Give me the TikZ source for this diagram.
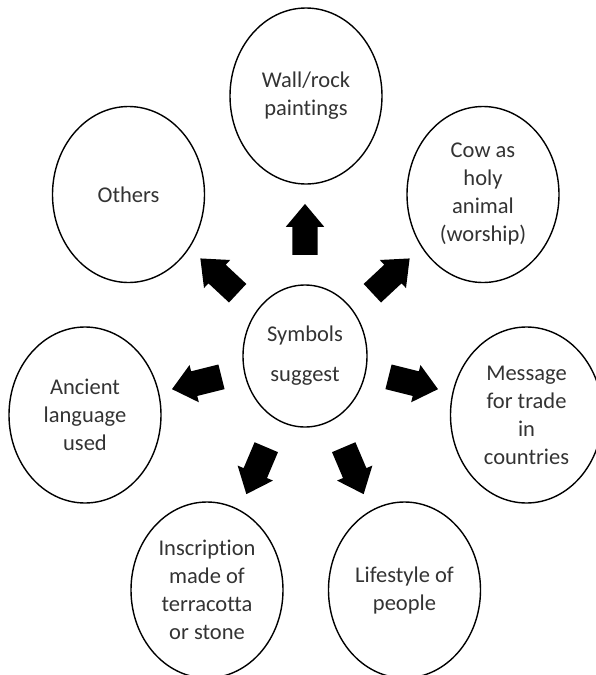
\documentclass[tikz,border=0pt]{standalone}
\usepackage{fontspec}
\setmainfont{Carlito}[Ligatures=NoCommon]
\usetikzlibrary{calc,shapes.geometric,shapes.arrows}

\begin{document}
\begin{tikzpicture}[x=1pt, y=1pt,
                    main node/.style={ellipse,draw,line width=1.4pt,minimum width=152pt,minimum height=176pt,
                                      inner sep=0pt,align=center,text=black!80,font=\fontsize{22.5}{28}\selectfont},
                    centre node/.style={main node,minimum width=124pt,minimum height=142pt},
                    block arrow/.style={single arrow,fill=black,inner sep=0pt,text height=12.5pt,text depth=12.5pt,
                                        minimum width=38pt,minimum height=51pt,single arrow head extend=6.5pt,
                                        single arrow tip angle=80}]
    \useasboundingbox (0,0) rectangle (595,-675);

    \node[centre node] (sym) at (305,-356) {Symbols\\[12pt]suggest};
    \node[main node] (wall) at (306,-96) {Wall/rock\\paintings};
    \node[main node] (cow) at (483,-194.5) {Cow as\\holy\\animal\\(worship)};
    \node[main node] (oth) at (128.5,-194.5) {Others};
    \node[main node] (anc) at (85,-415) {Ancient\\language\\used};
    \node[main node] (msg) at (526.5,-415) {Message\\for trade\\in\\countries};
    \node[main node] (ins) at (207,-590) {Inscription\\made of\\terracotta\\or stone};
    \node[main node] (life) at (404.5,-590) {Lifestyle of\\people};

    % arrows out of the centre
    \foreach \ang/\dist [count=\i] in {90/119, 43/110, 137/110, 194/104, -14/104, 247/117, -67/117}
        \node[block arrow, rotate=\ang] (arr\i) at ($(sym)+(\ang:\dist)$) {};
\end{tikzpicture}
\end{document}
